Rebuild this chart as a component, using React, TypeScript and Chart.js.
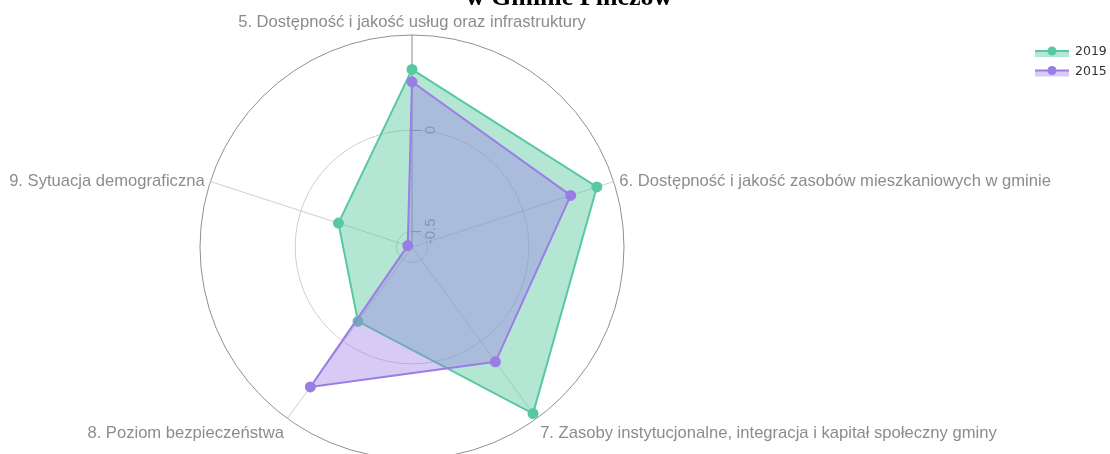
import { useEffect, useRef } from 'react';
import { Chart, registerables } from 'chart.js';

Chart.register(...registerables);

const categories = [
  '5. Dostępność i jakość usług oraz infrastruktury',
  '6. Dostępność i jakość zasobów mieszkaniowych w gminie',
  '7. Zasoby instytucjonalne, integracja i kapitał społeczny gminy',
  '8. Poziom bezpieczeństwa',
  '9. Sytuacja demograficzna',
];
const seriesNames = ['2019', '2015'];
const values2019 = [0.3, 0.383, 0.44, -0.123, -0.195];
const values2015 = [0.239, 0.247, 0.124, 0.277, -0.555];
const tickValues = [-0.5, 0];
const tickLabels = ['-0.5', '0'];
const titleText = 'w Gminie Pińczów';

const AXIS_MIN = -0.577;
const AXIS_MAX = 0.47;

const GREEN = 'rgb(88,200,160)';
const GREEN_FILL = 'rgba(88,200,160,0.45)';
const PURPLE = 'rgb(155,125,230)';
const PURPLE_FILL = 'rgba(155,125,230,0.4)';

const CENTER_X = 412;
const CENTER_Y = 247;
const RADIUS = 212;

const overlayPlugin = {
  id: 'overlay',
  beforeDatasetsDraw(chart: any) {
    const scale = chart.scales.r;
    const ctx = chart.ctx;
    ctx.save();
    // tick marks and rotated tick labels on first axis
    tickValues.forEach((v, i) => {
      const d = scale.getDistanceFromCenterForValue(v);
      const p = scale.getPointPosition(0, d);
      ctx.strokeStyle = '#888';
      ctx.lineWidth = 1;
      ctx.beginPath();
      ctx.moveTo(p.x, Math.round(p.y) + 0.5);
      ctx.lineTo(p.x + 9, Math.round(p.y) + 0.5);
      ctx.stroke();
      ctx.save();
      ctx.translate(p.x + 19, p.y);
      ctx.rotate(-Math.PI / 2);
      ctx.fillStyle = '#8c8c8c';
      ctx.font = '15px "Liberation Sans", Arial, sans-serif';
      ctx.textAlign = 'center';
      ctx.textBaseline = 'middle';
      ctx.fillText(tickLabels[i], 0, 0);
      ctx.restore();
    });
    // point labels
    ctx.font = '16.6px "Liberation Sans", Arial, sans-serif';
    ctx.fillStyle = '#8c8c8c';
    categories.forEach((label, i) => {
      const dist = scale.drawingArea + 6;
      const p = scale.getPointPosition(i, dist);
      const c = (p.x - scale.xCenter) / dist;
      const s = (p.y - scale.yCenter) / dist;
      ctx.textAlign = Math.abs(c) < 0.05 ? 'center' : c > 0 ? 'left' : 'right';
      ctx.textBaseline = s < -0.5 ? 'bottom' : s > 0.5 ? 'top' : 'middle';
      ctx.fillText(label, p.x, p.y + 2);
    });
    ctx.restore();
  },
  afterDraw(chart: any) {
    const ctx = chart.ctx;
    const lines = [GREEN, PURPLE];
    const fills = [GREEN_FILL, PURPLE_FILL];
    const x0 = chart.width - 75;
    ctx.save();
    seriesNames.forEach((name, i) => {
      const y = 51 + i * 19.5;
      ctx.fillStyle = fills[i];
      ctx.fillRect(x0, y, 34, 6);
      ctx.strokeStyle = lines[i];
      ctx.lineWidth = 2;
      ctx.beginPath();
      ctx.moveTo(x0, y);
      ctx.lineTo(x0 + 34, y);
      ctx.stroke();
      ctx.fillStyle = lines[i];
      ctx.beginPath();
      ctx.arc(x0 + 17, y, 4.5, 0, Math.PI * 2);
      ctx.fill();
      ctx.fillStyle = '#333';
      ctx.font = '12.5px "DejaVu Sans", sans-serif';
      ctx.textAlign = 'left';
      ctx.textBaseline = 'middle';
      ctx.fillText(name, x0 + 40, y + 1);
    });
    ctx.restore();
  },
};

export default function App() {
  const ref = useRef<HTMLCanvasElement | null>(null);
  useEffect(() => {
    if (!ref.current) return;
    const chart = new Chart(ref.current, {
      type: 'radar',
      data: {
        labels: categories,
        datasets: [
          {
            label: seriesNames[0],
            data: values2019,
            borderColor: GREEN,
            backgroundColor: GREEN_FILL,
            pointBackgroundColor: GREEN,
            pointBorderColor: GREEN,
            pointRadius: 4.5,
            borderWidth: 2,
            fill: 'start',
            order: 2,
          },
          {
            label: seriesNames[1],
            data: values2015,
            borderColor: PURPLE,
            backgroundColor: PURPLE_FILL,
            pointBackgroundColor: PURPLE,
            pointBorderColor: PURPLE,
            pointRadius: 4.5,
            borderWidth: 2,
            fill: 'start',
            order: 1,
          },
        ],
      },
      options: {
        animation: false,
        responsive: true,
        maintainAspectRatio: false,
        plugins: {
          legend: { display: false },
          tooltip: { enabled: false },
          title: { display: false },
        },
        scales: {
          r: {
            min: AXIS_MIN,
            max: AXIS_MAX,
            afterBuildTicks: (s: any) => {
              s.ticks = [AXIS_MIN, ...tickValues, AXIS_MAX].map((v) => ({ value: v }));
            },
            afterFit: (s: any) => {
              s.xCenter = CENTER_X;
              s.yCenter = CENTER_Y;
              s.drawingArea = RADIUS;
            },
            ticks: { display: false },
            pointLabels: { display: false },
            grid: {
              circular: true,
              lineWidth: 1,
              color: (c: any) =>
                c.index === 0 ? 'rgba(0,0,0,0)' : c.index === tickValues.length + 1 ? '#8f8f8f' : '#cfcfcf',
            },
            angleLines: {
              lineWidth: 1,
              color: (c: any) => (c.index === 0 ? '#888' : '#cfcfcf'),
            },
          },
        },
      },
      plugins: [overlayPlugin],
    });
    return () => chart.destroy();
  }, []);

  return (
    <div style={{ position: 'fixed', left: 0, top: 0, width: 1110, height: 454, overflow: 'hidden', background: '#fff' }}>
      <canvas ref={ref} style={{ position: 'absolute', left: 0, top: 0 }} />
      <div
        style={{
          position: 'absolute',
          top: -18,
          left: 369,
          width: 400,
          textAlign: 'center',
          font: 'bold 26px/30px "Liberation Serif", "Times New Roman", serif',
          color: '#000',
          whiteSpace: 'nowrap',
        }}
      >
        {titleText}
      </div>
    </div>
  );
}
